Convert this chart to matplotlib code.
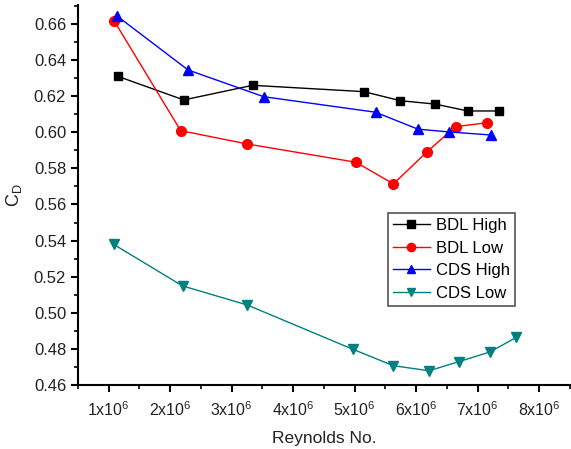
import matplotlib
matplotlib.use("Agg")
import matplotlib.pyplot as plt
from matplotlib.ticker import MultipleLocator, FixedLocator

plt.rcParams['font.family'] = ['Liberation Sans', 'DejaVu Sans']
plt.rcParams['mathtext.fontset'] = 'custom'
plt.rcParams['mathtext.rm'] = 'Liberation Sans'
plt.rcParams['mathtext.it'] = 'Liberation Sans:italic'

bdl_high_x = [1.146, 2.22, 3.34, 5.15, 5.74, 6.31, 6.84, 7.35]
bdl_high_y = [0.6310, 0.6179, 0.6260, 0.6225, 0.6175, 0.6156, 0.6118, 0.6118]

bdl_low_x = [1.086, 2.17, 3.255, 5.02, 5.63, 6.18, 6.64, 7.16]
bdl_low_y = [0.6618, 0.6009, 0.5935, 0.5834, 0.5714, 0.5893, 0.6031, 0.6053]

cds_high_x = [1.135, 2.29, 3.52, 5.34, 6.03, 6.53, 7.21]
cds_high_y = [0.6644, 0.6345, 0.6197, 0.6111, 0.6017, 0.6002, 0.5985]

cds_low_x = [1.08, 2.20, 3.255, 4.97, 5.63, 6.21, 6.69, 7.20, 7.63]
cds_low_y = [0.5379, 0.5149, 0.5043, 0.4798, 0.4707, 0.4679, 0.4729, 0.4783, 0.4864]

x_ticks = [1, 2, 3, 4, 5, 6, 7, 8]
x_tick_labels = [r'$\mathrm{%dx10^{6}}$' % v for v in x_ticks]

fig = plt.figure(figsize=(5.71, 4.49), dpi=100)
ax = fig.add_axes([0.1366, 0.1425, 0.8614, 0.8464])

scale = 1e6
ax.plot([v * scale for v in bdl_high_x], bdl_high_y, '-s', color='black', lw=1.0, ms=6, label='BDL High')
ax.plot([v * scale for v in bdl_low_x], bdl_low_y, '-o', color='red', lw=1.0, ms=7, label='BDL Low')
ax.plot([v * scale for v in cds_high_x], cds_high_y, '-^', color='blue', lw=1.0, ms=7.5, label='CDS High')
ax.plot([v * scale for v in cds_low_x], cds_low_y, '-v', color='#008080', lw=1.0, ms=7.5, label='CDS Low')

ax.set_xlim(0.5 * scale, 8.5 * scale)
ax.set_ylim(0.46, 0.6705)
ax.xaxis.set_major_locator(FixedLocator([v * scale for v in x_ticks]))
ax.set_xticklabels(x_tick_labels)
ax.xaxis.set_minor_locator(MultipleLocator(0.5 * scale))
ax.yaxis.set_major_locator(MultipleLocator(0.02))
ax.yaxis.set_minor_locator(MultipleLocator(0.01))
ax.yaxis.set_major_formatter(matplotlib.ticker.FormatStrFormatter('%.2f'))

for s in ['top', 'right']:
    ax.spines[s].set_visible(False)
for s in ['left', 'bottom']:
    ax.spines[s].set_linewidth(1.5)
ax.tick_params(which='major', direction='out', length=5, width=1.5, colors='black')
ax.tick_params(which='minor', direction='out', length=3, width=1.2)
ax.tick_params(axis='x', pad=6, labelsize=11.5)
ax.tick_params(axis='y', labelsize=12)
for lab in ax.get_xticklabels() + ax.get_yticklabels():
    lab.set_color('#222222')

ax.set_xlabel('Reynolds No.', fontsize=12.5, labelpad=9, color='#222222')
ax.set_ylabel(r'C$_\mathrm{D}$', fontsize=13, labelpad=7, color='#222222')

leg = ax.legend(loc='upper left', bbox_to_anchor=(0.63, 0.4526), borderaxespad=0,
                fancybox=False, edgecolor='#555555', fontsize=12, handlelength=2.2,
                handletextpad=0.4, borderpad=0.3, labelspacing=0.45, framealpha=1,
                markerscale=0.85)
leg.get_frame().set_linewidth(1.2)

fig.savefig('out.png', dpi=100)
